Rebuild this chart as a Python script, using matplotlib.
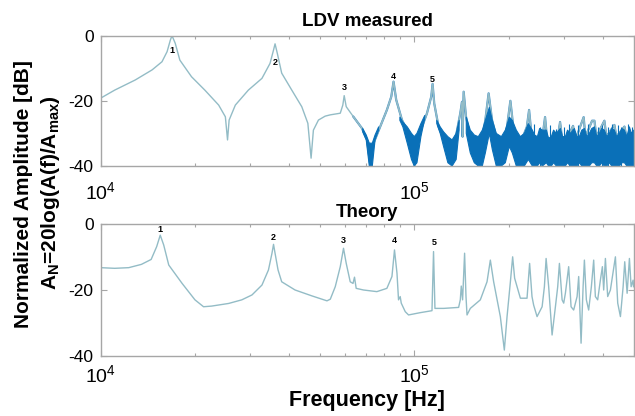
import matplotlib
matplotlib.use("Agg")
import matplotlib.pyplot as plt
import numpy as np
from matplotlib.ticker import LogLocator, NullFormatter, FixedLocator

plt.rcParams["font.family"] = ["Liberation Sans", "DejaVu Sans"]
plt.rcParams["mathtext.fontset"] = "custom"
plt.rcParams["mathtext.rm"] = "Liberation Sans"
plt.rcParams["mathtext.bf"] = "Liberation Sans:bold"

# --- LDV measured: smooth part of the spectrum (kHz, dB) ---
ldv_khz = [10.0, 11.1, 12.9, 14.6, 15.7, 16.3, 16.7, 16.9, 17.3, 17.9, 19.5, 21.5,
           23.8, 25.0, 25.4, 25.7, 26.9, 29.6, 32.7, 34.7, 35.6, 36.0, 36.6, 37.8,
           40.7, 43.8, 45.8, 46.9, 47.7, 49.5, 52.0, 54.0, 58.1, 59.2, 59.8, 60.7,
           64.0, 68.1, 70.7, 72.4, 74.2, 77.9, 81.8, 84.5, 85.9, 87.6, 91.4, 97.1,
           100.2, 103.2, 109.8, 113.3, 114.4, 115.8, 119.5, 125.6, 131.9, 135.1,
           140.2, 142.0, 142.6, 143.7, 146.2, 150.9, 162.4, 168.5, 172.6, 177.0,
           188.1, 197.6, 202.5, 207.4, 217.9, 228.5, 232.3, 236.2, 248.6, 257.9,
           261.2, 264.6, 275.5, 288.0, 291.6, 295.5, 305.4, 320.8, 326.3, 346.7,
           351.2, 368.9, 375.2, 380.7, 403.7, 409.6, 434.5, 440.9, 467.7, 474.6, 500.0]
ldv_db = [-19.2, -16.7, -13.6, -10.5, -8.0, -4.9, -1.3, 0.0, -2.3, -7.5, -12.6, -16.7,
          -21.3, -24.9, -32.0, -25.9, -21.3, -16.7, -13.1, -8.5, -4.4, -2.5, -5.4, -11.5,
          -16.7, -21.8, -26.9, -37.6, -29.0, -25.9, -24.7, -24.3, -23.8, -21.3, -18.4, -21.8,
          -24.9, -28.4, -32.0, -39.7, -33.0, -27.9, -22.8, -18.7, -14.1, -19.7, -25.9, -31.0,
          -39.7, -31.0, -23.8, -18.7, -14.8, -20.8, -27.9, -33.0, -39.7, -32.0,
          -23.8, -20.3, -31.0, -17.2, -24.9, -31.0, -35.0, -25.9, -17.7, -25.9,
          -36.0, -27.9, -20.0, -29.0, -33.0, -28.0, -22.8, -30.0, -33.0, -29.0,
          -25.0, -31.0, -33.0, -30.0, -26.5, -31.0, -32.0, -27.7, -32.0, -25.0,
          -31.0, -26.1, -26.1, -31.0, -26.1, -31.0, -27.4, -31.0, -27.9, -31.0, -30.0]

# --- LDV measured: noise band envelope (kHz, upper dB, lower dB); NaN = gap ---
noise_khz = [68.5, 70.3, 71.9, 73.5, 75.0, 77.0, np.nan,
             90.0, 92.0, 95.0, 98.0, 100.0, 102.0, 105.0, 108.0, np.nan,
             118.0, 121.0, 124.0, 128.0, 132.0, 136.0, 139.0, np.nan,
             146.5, 150.9, 155.4, 160.0, 164.8, 168.5, 173.5, 177.4, 182.6, 189.5,
             195.1, 200.9, 205.4, 211.5, 217.9, 224.3, 231.0, 237.9, 242.0, 246.9,
             251.0, 256.1, 263.6, 268.0, 273.5, 278.0, 283.8, 292.2, 297.0, 303.2,
             308.0, 314.5, 323.9, 330.0, 336.0, 342.0, 348.6, 355.0, 361.5, 368.0,
             375.2, 382.0, 389.2, 396.0, 403.7, 411.0, 418.8, 426.0, 434.5, 442.0,
             450.8, 459.0, 467.7, 476.0, 485.1, 492.0, 500.0]
noise_hi = [-28.5, -30.5, -33, -33, -30.5, -28, np.nan,
            -25, -26.5, -28, -30, -31, -30, -27, -24.5, np.nan,
            -26, -28, -29.5, -31, -32, -30, -26, np.nan,
            -25, -29, -30.5, -31, -29, -26, -22, -26, -30, -31,
            -29, -25, -26, -29, -31, -30, -27, -29, -30.5, -31,
            -28.5, -29, -29, -31.5, -31, -29, -30, -28.5, -31, -31,
            -29, -30, -28.5, -31, -31, -29, -28.5, -31, -30, -28.5,
            -28, -31, -30, -28.5, -29, -31, -30, -28.5, -29, -31,
            -30, -28.5, -29, -31, -28, -30, -29]
noise_lo = [-29.5, -32, -40, -40, -32, -29, np.nan,
            -26, -28, -33, -38, -40, -39, -31, -25.5, np.nan,
            -27, -30, -34, -39, -40, -38, -29, np.nan,
            -30, -36, -39, -40, -40, -36, -30, -35, -40, -40,
            -39, -34, -36, -40, -40, -40, -38, -40, -40, -40,
            -39, -40, -39, -40, -40, -39, -40, -40, -40, -40,
            -39, -40, -40, -40, -39, -40, -40, -40, -40, -39,
            -39, -40, -40, -39, -40, -40, -39, -40, -40, -40,
            -40, -39, -39, -40, -40, -40, -40]

# small spikes sticking out of the noise floor (kHz, top dB)
spike_khz = [240.0, 252.0, 270.0, 282.0, 300.0, 312.0, 333.0, 357.0, 386.0,
             398.0, 415.0, 428.0, 446.0, 457.0, 480.0, 495.0]
spike_db = [-27.0, -28.0, -27.5, -28.5, -28.0, -27.0, -27.5, -27.0, -28.0,
            -27.5, -28.0, -27.0, -27.5, -28.0, -27.0, -28.0]

# --- Theory spectrum (kHz, dB) ---
th_khz = [10.0, 11.1, 12.3, 13.5, 14.5, 15.1, 15.5, 15.9, 16.5, 18.2, 20.0, 21.3,
          22.6, 25.6, 28.2, 30.4, 32.7, 34.3, 35.2, 35.6, 36.0, 36.8, 37.8, 41.7,
          47.2, 52.7, 54.0, 56.0, 58.1, 59.5, 60.7, 62.5, 63.8, 64.5, 65.3, 68.9,
          76.0, 81.8, 84.9, 86.5, 88.1, 89.1, 90.2, 90.9, 93.6, 95.9, 104.5, 113.9,
          115.2, 116.4, 124.1, 138.5, 140.2, 141.2, 142.6, 144.7, 146.2, 147.3,
          150.9, 162.4, 170.6, 174.8, 179.1, 188.1, 193.7, 197.6, 202.5, 205.9,
          208.9, 217.9, 228.8, 233.2, 237.3, 240.2, 246.3, 255.6, 259.9, 263.2,
          268.2, 275.0, 281.8, 286.6, 290.2, 296.0, 299.5, 303.2, 310.6, 316.1,
          322.2, 330.4, 334.3, 340.2, 345.3, 348.6, 353.7, 359.7, 366.9, 373.2,
          377.8, 384.3, 392.0, 397.8, 401.6, 406.7, 413.6, 421.9, 437.7, 445.2,
          454.1, 463.2, 468.7, 477.0, 485.1, 491.2, 498.4, 500.0]
th_db = [-13.2, -13.4, -13.2, -12.2, -10.7, -6.8, -3.3, -6.3, -12.4, -18.0, -23.0, -25.1,
         -24.9, -24.1, -23.0, -21.5, -18.5, -13.9, -8.8, -6.1, -8.8, -13.9, -17.5, -20.0,
         -21.8, -23.3, -22.8, -19.0, -12.9, -7.3, -11.9, -17.5, -18.0, -16.1, -19.5, -20.0,
         -20.5, -19.5, -15.9, -7.8, -14.9, -23.0, -22.0, -24.0, -26.6, -27.6, -26.9, -26.3,
         -8.3, -25.6, -25.6, -25.3, -23.0, -18.8, -23.0, -8.8, -22.0, -27.6,
         -25.6, -23.0, -17.5, -10.9, -17.5, -28.1, -38.3, -28.1, -17.5, -9.9,
         -16.4, -22.5, -22.5, -11.9, -22.0, -24.6, -28.1, -25.1, -19.0, -10.4,
         -19.0, -33.7, -25.1, -19.0, -11.9, -23.0, -24.0, -21.0, -12.9, -25.1,
         -26.1, -22.0, -15.9, -36.2, -19.0, -10.9, -23.0, -26.1, -19.0, -10.9,
         -22.0, -23.0, -17.0, -12.9, -20.0, -10.4, -22.0, -20.0, -9.9, -24.0,
         -28.1, -19.0, -11.4, -21.0, -10.4, -19.0, -17.0, -19.0]

# --- mode number labels (kHz, dB) ---
mode_names = ["1", "2", "3", "4", "5"]
ldv_mode_khz = [16.9, 36.0, 59.8, 85.9, 114.4]
ldv_mode_db = [-4.6, -8.2, -15.8, -12.6, -13.4]
th_mode_khz = [15.5, 35.6, 59.5, 86.5, 116.0]
th_mode_db = [-1.7, -4.0, -5.0, -5.0, -5.4]

LINE_C = "#93bcc6"
NOISE_C = "#0a70b8"
FRAME_C = "#a6a6a6"

fig = plt.figure(figsize=(6.35, 4.16), dpi=100)
ax1 = fig.add_axes([0.1583, 0.601, 0.8394, 0.3132])
ax2 = fig.add_axes([0.1583, 0.145, 0.8394, 0.3158])

ldv_f = np.array(ldv_khz) * 1e3
ax1.plot(ldv_f, ldv_db, color=LINE_C, lw=1.0, zorder=2)
# measured data gets noisy above ~64 kHz: blue fuzz along the line
noisy = np.where(ldv_f >= 64e3, ldv_db, np.nan)
ax1.plot(ldv_f, noisy, color=NOISE_C, lw=1.6, alpha=0.75, zorder=1.5)
ax1.plot(ldv_f, noisy, color=LINE_C, lw=0.7, zorder=2.5)
ax1.fill_between(np.array(noise_khz) * 1e3, noise_lo, noise_hi, color=NOISE_C,
                 linewidth=0.8, edgecolor=NOISE_C, zorder=3)
ax1.vlines(np.array(spike_khz) * 1e3, -40, spike_db, color=NOISE_C, lw=0.8, zorder=3)

ax2.plot(np.array(th_khz) * 1e3, th_db, color=LINE_C, lw=1.0, zorder=2)

for ax, fk, fd in [(ax1, ldv_mode_khz, ldv_mode_db), (ax2, th_mode_khz, th_mode_db)]:
    for name, k, d in zip(mode_names, fk, fd):
        ax.text(k * 1e3, d, name, fontsize=6.5, fontweight="bold",
                ha="center", va="center", zorder=4)

for ax, xpad in [(ax1, 11), (ax2, 6)]:
    ax.set_xscale("log")
    ax.set_xlim(1e4, 5e5)
    ax.set_ylim(-40, 0)
    ax.xaxis.set_major_locator(FixedLocator([1e4, 1e5]))
    ax.xaxis.set_minor_locator(LogLocator(base=10, subs=np.arange(2, 10)))
    ax.xaxis.set_minor_formatter(NullFormatter())
    ax.set_yticks([-40, -20, 0])
    ax.set_yticklabels(["-40", "-20", "0"])
    ax.tick_params(axis="both", which="both", direction="in", top=True, right=True,
                   color=FRAME_C, width=0.8)
    ax.tick_params(axis="both", which="major", length=4)
    ax.tick_params(axis="both", which="minor", length=2.5)
    ax.tick_params(axis="x", which="major", labelsize=14, pad=xpad)
    ax.tick_params(axis="y", which="major", labelsize=12.5, pad=5)
    for sp in ax.spines.values():
        sp.set_color(FRAME_C)
        sp.set_linewidth(1.0)
        sp.set_zorder(5)

ax1.set_title("LDV measured", fontsize=13.5, fontweight="bold", pad=7)
ax2.set_title("Theory", fontsize=13.5, fontweight="bold", pad=5)

fig.text(0.5772, 0.012, "Frequency [Hz]", fontsize=15.5, fontweight="bold",
         ha="center", va="bottom")
fig.text(0.037, 0.534, "Normalized Amplitude [dB]", fontsize=15, fontweight="bold",
         rotation=90, ha="center", va="center")
fig.text(0.079, 0.537, r"A$_\mathbf{N}$=20log(A(f)/A$_\mathbf{max}$)", fontsize=15,
         fontweight="bold", rotation=90, ha="center", va="center")

fig.savefig("out.png", dpi=100)
